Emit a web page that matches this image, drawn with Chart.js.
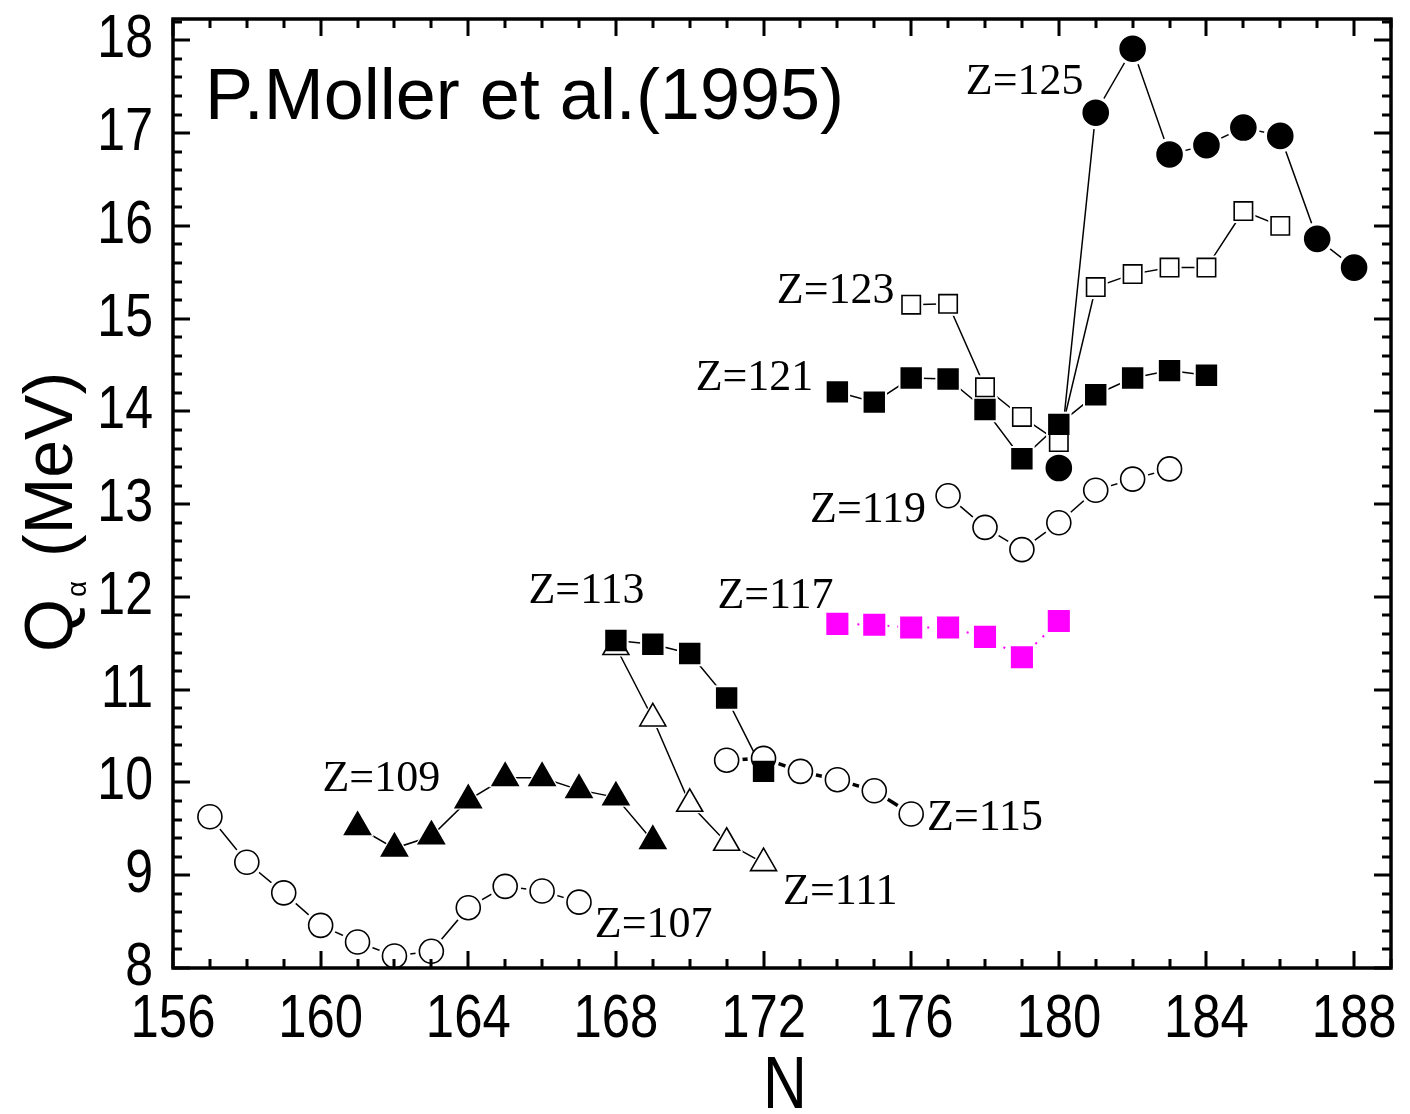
<!DOCTYPE html>
<html><head><meta charset="utf-8">
<script src="https://cdn.jsdelivr.net/npm/chart.js@4.4.1/dist/chart.umd.min.js"></script>
<style>html,body{margin:0;padding:0;background:#fff;}canvas{display:block}</style>
</head><body>
<canvas id="c" width="1410" height="1114"></canvas>
<script>
// ---- tick labels ----
const xTicks = [156,160,164,168,172,176,180,184,188];
const yTicks = [8,9,10,11,12,13,14,15,16,17,18];

// ---- series (N, Q_alpha in MeV) ----
const n107 = [157,158,159,160,161,162,163,164,165,166,167];
const q107 = [9.63,9.14,8.81,8.46,8.28,8.13,8.18,8.65,8.88,8.83,8.71];
const n109 = [161,162,163,164,165,166,167,168,169];
const q109 = [9.52,9.29,9.42,9.81,10.05,10.05,9.92,9.84,9.37];
const n111 = [168,169,170,171,172];
const q111 = [11.46,10.69,9.77,9.35,9.13];
const n113 = [168,169,170,171,172];
const q113 = [11.53,11.49,11.39,10.91,10.12];
const n115 = [171,172,173,174,175,176];
const q115 = [10.24,10.26,10.12,10.03,9.91,9.66];
const n117 = [174,175,176,177,178,179,180];
const q117 = [11.71,11.70,11.67,11.67,11.57,11.35,11.74];
const n119 = [177,178,179,180,181,182,183];
const q119 = [13.09,12.75,12.51,12.80,13.15,13.27,13.38];
const n121 = [174,175,176,177,178,179,180,181,182,183,184];
const q121 = [14.21,14.10,14.36,14.35,14.02,13.49,13.86,14.18,14.36,14.44,14.39];
const n123 = [176,177,178,179,180,181,182,183,184,185,186];
const q123 = [15.15,15.16,14.26,13.94,13.67,15.34,15.48,15.55,15.55,16.16,16.00];
const n125 = [180,181,182,183,184,185,186,187,188];
const q125 = [13.39,17.22,17.91,16.77,16.87,17.06,16.97,15.86,15.55];

// ---- labels ----
const zNames = ['Z=107','Z=109','Z=111','Z=113','Z=115','Z=117','Z=119','Z=121','Z=123','Z=125'];
const titleText = 'P.Moller et al.(1995)';

// ---- styles (kept separate from data) ----
const series = [
  {n:n107,q:q107,ps:'circle',  r:12,fill:'#fff',   stroke:'#000',   line:'#000',lw:1.5,dash:[],   top:1},
  {n:n109,q:q109,ps:'triangle',r:15,fill:'#000',   stroke:'#000',   line:'#000',lw:1.5,dash:[],   top:0},
  {n:n111,q:q111,ps:'triangle',r:15,fill:'#fff',   stroke:'#000',   line:'#000',lw:1.5,dash:[],   top:1},
  {n:n113,q:q113,ps:'rect',    r:14,fill:'#000',   stroke:'#000',   line:'#000',lw:1.5,dash:[],   top:0},
  {n:n115,q:q115,ps:'circle',  r:12,fill:'#fff',   stroke:'#000',   line:'#000',lw:3.5,dash:[],   top:1},
  {n:n117,q:q117,ps:'rect',    r:14.5,fill:'#ff00ff',stroke:'#ff00ff',line:'#ff00ff',lw:2,dash:[2,8],top:0},
  {n:n119,q:q119,ps:'circle',  r:12,fill:'#fff',   stroke:'#000',   line:'#000',lw:1.5,dash:[],   top:1},
  {n:n121,q:q121,ps:'rect',    r:14,fill:'#000',   stroke:'#000',   line:'#000',lw:1.5,dash:[],   top:0},
  {n:n123,q:q123,ps:'rect',    r:13,fill:'#fff',   stroke:'#000',   line:'#000',lw:1.5,dash:[],   top:1},
  {n:n125,q:q125,ps:'circle',  r:12.5,fill:'#000', stroke:'#000',   line:'#000',lw:1.5,dash:[],   top:0}
];
// label anchors (left edge, vertical middle) in data coordinates
const zLabelPos = [
  [167.43,8.46],[160.05,10.03],[172.53,8.81],[165.63,12.06],[176.43,9.61],
  [170.75,12.01],[173.26,12.93],[170.16,14.35],[172.36,15.29],[177.48,17.55]
];

const datasets = [];
series.forEach((s,i)=>{
  const pts = s.n.map((v,k)=>({x:v,y:s.q[k]}));
  datasets.push({
    label: zNames[i]+' line', data: pts, showLine:true,
    borderColor:s.line, borderWidth:s.lw, borderDash:s.dash, tension:0,
    pointStyle:s.ps, pointRadius:s.r+4, pointBackgroundColor:'#fff',
    pointBorderWidth:0, pointBorderColor:'#fff', order:3, clip:false
  });
  datasets.push({
    label: zNames[i], data: pts, showLine:false,
    pointStyle:s.ps, pointRadius:s.r, pointBackgroundColor:s.fill,
    pointBorderColor:s.stroke, pointBorderWidth:1.6, order:s.top, clip:false
  });
});

const SANS = "'Liberation Sans', Arial, sans-serif";
const SERIF = "'Liberation Serif', 'Times New Roman', serif";
const SQUEEZE = 0.82; // condensed (narrow) sans look

function narrowText(ctx, text, x, y, align){
  ctx.save();
  ctx.translate(x, y);
  ctx.scale(SQUEEZE, 1);
  ctx.textAlign = align;
  ctx.fillText(text, 0, 0);
  ctx.restore();
}

const framePlugin = {
  id:'frame',
  afterDraw(chart){
    const {ctx, chartArea:{left,right,top,bottom}, scales:{x,y}} = chart;
    ctx.save();
    ctx.strokeStyle='#000'; ctx.lineCap='butt';
    ctx.lineWidth=3;
    for(let v=Math.ceil(x.min); v<=x.max; v++){
      const px = Math.round(x.getPixelForValue(v));
      const len = (v%4===0)?17:9;
      ctx.beginPath();
      ctx.moveTo(px,bottom); ctx.lineTo(px,bottom-len);
      ctx.moveTo(px,top); ctx.lineTo(px,top+len);
      ctx.stroke();
    }
    for(let k=Math.ceil(y.min*5); k<=y.max*5+1e-9; k++){
      const py = Math.round(y.getPixelForValue(k/5));
      const len = (k%5===0)?17:9;
      ctx.beginPath();
      ctx.moveTo(left,py); ctx.lineTo(left+len,py);
      ctx.moveTo(right,py); ctx.lineTo(right-len,py);
      ctx.stroke();
    }
    ctx.lineWidth=3.5;
    ctx.strokeRect(left,top,right-left,bottom-top);

    ctx.fillStyle='#000';
    // tick labels (from the scales' own ticks)
    ctx.font = '62px '+SANS;
    ctx.textBaseline='alphabetic';
    x.ticks.forEach(t=>{
      narrowText(ctx, String(t.value), x.getPixelForValue(t.value), bottom+69, 'center');
    });
    ctx.font = '61px '+SANS;
    y.ticks.forEach(t=>{
      narrowText(ctx, String(t.value), left-20, y.getPixelForValue(t.value)+17, 'right');
    });

    // Z labels
    ctx.font = '44px '+SERIF;
    ctx.textBaseline='middle'; ctx.textAlign='left';
    zNames.forEach((t,i)=>{
      const [lx,ly] = zLabelPos[i];
      ctx.fillText(t, x.getPixelForValue(lx), y.getPixelForValue(ly));
    });
    // panel title
    ctx.font = '72px '+SANS;
    ctx.textBaseline='alphabetic';
    ctx.fillText(titleText, left+32, top+100);

    // x-axis title
    ctx.font = '74px '+SANS;
    narrowText(ctx, 'N', (left+right)/2+3, 1108, 'center');

    // y-axis title (rotated)
    ctx.save();
    ctx.translate(72, 652);
    ctx.rotate(-Math.PI/2);
    ctx.textAlign='left';
    ctx.font = '68px '+SANS;
    ctx.fillText('Q',0,0);
    const qw = ctx.measureText('Q').width;
    ctx.font = '28px '+SANS;
    ctx.fillText('\u03b1', qw+2, 14);
    ctx.font = '68px '+SANS;
    ctx.fillText('(MeV)', 95, 0);
    ctx.restore();
    ctx.restore();
  }
};

new Chart(document.getElementById('c'), {
  type:'scatter',
  data:{datasets},
  options:{
    responsive:false, animation:false, events:[],
    layout:{padding:{top:17,right:14,left:0,bottom:0}},
    plugins:{legend:{display:false}, tooltip:{enabled:false}},
    scales:{
      x:{type:'linear', min:156, max:189,
        grid:{display:false, drawTicks:false}, border:{display:false},
        ticks:{display:false, includeBounds:false},
        afterBuildTicks:s=>{s.ticks = xTicks.map(v=>({value:v}));},
        afterFit:s=>{s.height=146; s.paddingLeft=0; s.paddingRight=0;}
      },
      y:{type:'linear', min:8, max:18.23,
        grid:{display:false, drawTicks:false}, border:{display:false},
        ticks:{display:false, includeBounds:false},
        afterBuildTicks:s=>{s.ticks = yTicks.map(v=>({value:v}));},
        afterFit:s=>{s.width=173; s.paddingTop=0; s.paddingBottom=0;}
      }
    }
  },
  plugins:[framePlugin]
});
</script>
</body></html>
